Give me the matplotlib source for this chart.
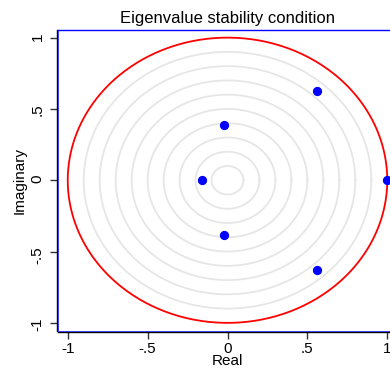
import matplotlib
matplotlib.use("Agg")
import matplotlib.pyplot as plt
import numpy as np
from matplotlib.patches import Rectangle

plt.rcParams["font.family"] = ["Liberation Sans", "DejaVu Sans"]

# Eigenvalues (real, imaginary)
eig_real = [1.0, -0.16, -0.025, -0.025, 0.559, 0.559]
eig_imag = [0.0, 0.0, 0.385, -0.385, 0.628, -0.628]

grid_radii = [0.1, 0.2, 0.3, 0.4, 0.5, 0.6, 0.7, 0.8, 0.9]
tick_vals = [-1, -0.5, 0, 0.5, 1]
tick_labels = ["-1", "-.5", "0", ".5", "1"]

W, H = 390, 368
fig = plt.figure(figsize=(W / 100, H / 100), dpi=100)
fig.patch.set_facecolor("white")

left, right, top, bottom = 58, 397, 29.5, 331
ax = fig.add_axes([left / W, 1 - bottom / H, (right - left) / W, (bottom - top) / H])

theta = np.linspace(0, 2 * np.pi, 400)
for r in grid_radii:
    ax.plot(r * np.cos(theta), r * np.sin(theta), color="#e6e6e6", lw=1.3, zorder=1)
ax.plot(np.cos(theta), np.sin(theta), color="red", lw=1.3, zorder=2)

ax.scatter(eig_real, eig_imag, s=32, color="blue", zorder=3, clip_on=False)

ax.set_xlim(-1.061, 1.061)
ax.set_ylim(-1.057, 1.057)

ax.set_xticks(tick_vals)
ax.set_xticklabels(tick_labels)
ax.set_yticks(tick_vals)
ax.set_yticklabels(tick_labels)
ax.tick_params(direction="out", length=5, width=1, color="#333333",
               labelsize=11, pad=2)
ax.tick_params(axis="y", labelrotation=90, pad=4)
for lab in ax.get_yticklabels():
    lab.set_va("center")

ax.spines["right"].set_visible(False)
ax.spines["top"].set_color("blue")
ax.spines["top"].set_linewidth(1)
for s in ("left", "bottom"):
    ax.spines[s].set_color("black")
    ax.spines[s].set_linewidth(1.0)
    ax.spines[s].set_position(("outward", 0.7))
ax.add_patch(Rectangle((0, 0), 1, 1, transform=ax.transAxes, fill=False,
                       edgecolor="blue", lw=0.5, clip_on=False, zorder=4))

ax.set_xlabel("Real", fontsize=11, labelpad=-1)
ax.set_ylabel("Imaginary", fontsize=11, labelpad=3)
ax.set_title("Eigenvalue stability condition", fontsize=12, pad=5)

fig.savefig("out.png", dpi=100)
